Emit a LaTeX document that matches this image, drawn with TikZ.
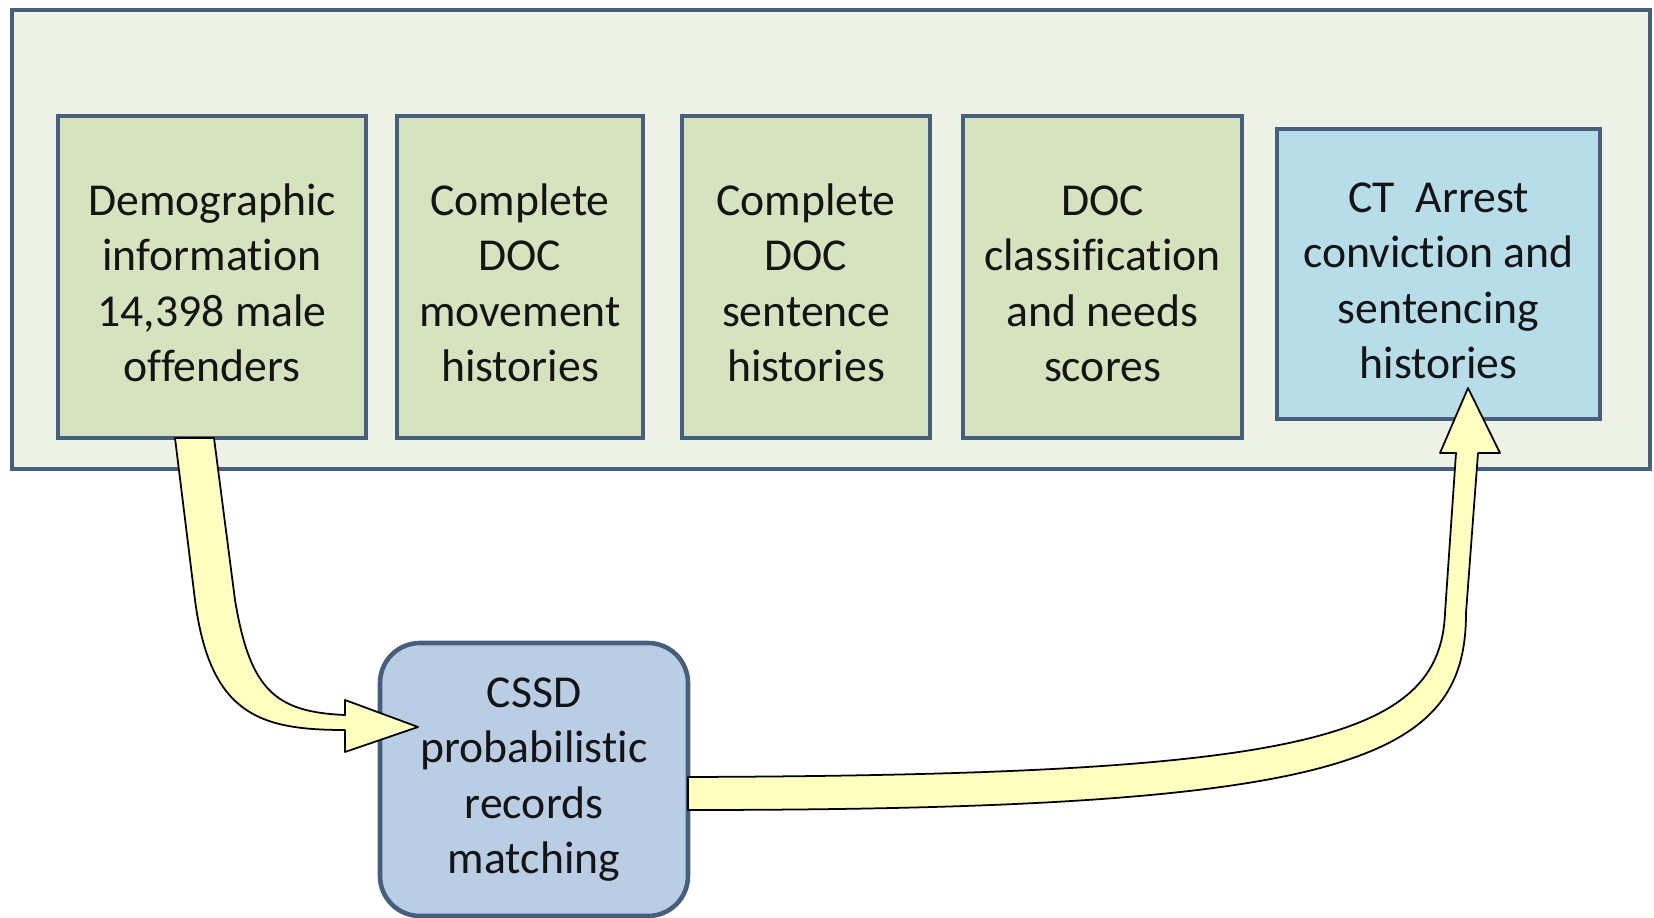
\documentclass[tikz,border=0pt]{standalone}
\usepackage{fontspec}
\setmainfont{Carlito}[Ligatures=NoCommon, Contextuals=NoAlternate]
\usetikzlibrary{calc,positioning}
\definecolor{panelfill}{RGB}{238,242,230}
\definecolor{olivebox}{RGB}{215,227,191}
\definecolor{cyanbox}{RGB}{183,221,232}
\definecolor{matchbox}{RGB}{185,205,229}
\definecolor{boxline}{RGB}{70,95,125}
\definecolor{arrowfill}{RGB}{255,255,192}
\definecolor{textcol}{RGB}{20,20,20}

\begin{document}
\begin{tikzpicture}
[node distance=0.33cm, font=\fontsize{13}{15.8}\selectfont]
\tikzstyle{box}=[rectangle, draw=boxline, line width=1.3pt, text=textcol, minimum width=2.46cm, minimum height=3.22cm, inner sep=0pt, outer sep=0pt, align=center]
\tikzstyle{src}=[box, fill=olivebox, text height=59.6pt, text depth=0pt]
\tikzstyle{ext}=[src, fill=cyanbox, minimum height=2.9cm]
\tikzstyle{match}=[box, fill=matchbox, rounded corners=0.4cm, minimum height=2.73cm]
\tikzstyle{panel}=[rectangle, draw=boxline, line width=1.4pt, fill=panelfill, minimum width=16.38cm, minimum height=4.59cm, inner sep=0pt, outer sep=0pt]
\tikzstyle{fatarrow}=[draw=black, line width=0.5pt, fill=arrowfill, line join=round]

\path[fill=white] (0,0) rectangle (16.54,9.18);
\useasboundingbox (0,0) rectangle (16.54,9.18);

\node[panel] (panel) at (8.31,6.785) {};
\node[src, minimum width=3.08cm] (demo) at (2.12,6.41) {Demographic\\information\\14,398 male\\offenders};
\node[src] (move) [right=0.31cm of demo] {Complete\\DOC\\movement\\histories};
\node[src, minimum width=2.48cm] (sent) [right=0.39cm of move] {Complete\\DOC\\sentence\\histories};
\node[src, minimum width=2.79cm] (class) [right=of sent] {DOC\\classification\\and needs\\scores};
\node[ext, minimum width=3.23cm] (arrest) [right=0.35cm of class, yshift=0.03cm] {CT\ \ Arrest\\conviction and\\sentencing\\histories};
\node[match, minimum width=3.08cm] (cssd) at (5.34,1.385) {CSSD\\probabilistic\\records\\matching};

\coordinate (tip1) at ([xshift=3.8mm,yshift=5.25mm]cssd.west);
\coordinate (tip2) at ([xshift=2.95mm,yshift=3.1mm]arrest.south);

% demographic records go to the matching step
\filldraw[fatarrow] ([xshift=-3.7mm]demo.south) -- ++(0.2,-1.62)
  .. controls +(0.15,-1.15) and ($(tip1)+(-1.58,-0.03)$) .. ($(tip1)+(-0.73,-0.03)$)
  -- ($(tip1)+(-0.73,-0.25)$) -- (tip1) -- ($(tip1)+(-0.73,0.27)$) -- ($(tip1)+(-0.73,0.12)$)
  .. controls ($(tip1)+(-1.43,0.15)$) and ($(tip1)+(-1.68,0.37)$) .. ($(tip1)+(-1.83,1.27)$)
  -- ([xshift=0.2mm]demo.south) -- cycle;

% matched records go to the arrest histories
\filldraw[fatarrow] ([yshift=0.25mm]cssd.east)
  .. controls +(6.12,0.02) and ($(tip2)+(-0.28,-3.52)$) .. ($(tip2)+(-0.23,-2.25)$)
  -- ($(tip2)+(-0.12,-0.65)$) -- ($(tip2)+(-0.28,-0.65)$) -- (tip2) -- ($(tip2)+(0.32,-0.65)$) -- ($(tip2)+(0.10,-0.65)$)
  -- ($(tip2)+(-0.02,-2.25)$)
  .. controls ($(tip2)+(-0.02,-3.72)$) and ($(cssd.east)+(6.62,-0.305)$) .. ([yshift=-3.05mm]cssd.east) -- cycle;
\end{tikzpicture}
\end{document}
